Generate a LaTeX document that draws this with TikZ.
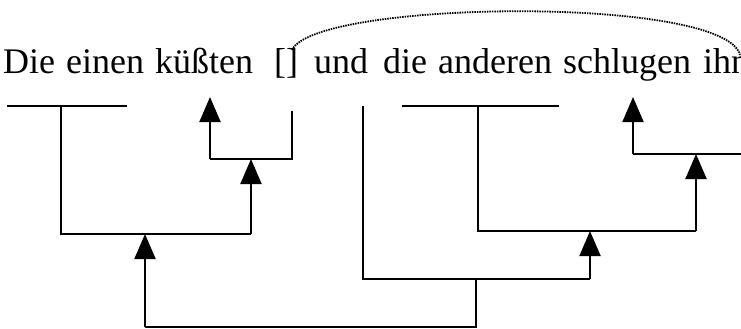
\documentclass[tikz,border=0pt]{standalone}
\usepackage{fontspec}
\setmainfont{Liberation Serif}
\usetikzlibrary{arrows.meta}

\tikzset{
  link/.style={line width=2pt, line cap=butt, line join=miter},
  uparrow/.style={link, -{Triangle[length=25pt, width=21pt]}},
  word/.style={anchor=base west, inner sep=0pt, font=\fontsize{36}{40}\selectfont},
  ellipsis/.style={line width=1.8pt, dash pattern=on 1.5pt off 1pt}
}

\begin{document}
\begin{tikzpicture}[x=1pt, y=-1pt]
  \useasboundingbox (0,0) rectangle (741,329);
  \clip (0,0) rectangle (741,329);

  % sentence
  \node[word] (Die) at (3,74) {Die};
  \node[word] (einen) at (66,74) {einen};
  \node[word] (kuessten) at (155,74) {küßten};
  \node[word] (gap) at (274,74) {[]};
  \node[word] (und) at (314,74) {und};
  \node[word] (die) at (383,74) {die};
  \node[word] (anderen) at (438,74) {anderen};
  \node[word] (schlugen) at (563,74) {schlugen};
  \node[word] (ihn) at (703,74) {ihn};

  % first conjunct: subject bar, verb bracket with empty object
  \coordinate (s1l) at (7,106);
  \coordinate (s1r) at (127,106);
  \coordinate (s1m) at (61,106);
  \coordinate (s1b) at (61,234);
  \coordinate (c1r) at (251,234);
  \coordinate (v1b) at (251,159);
  \coordinate (o1t) at (292,111);
  \coordinate (o1b) at (292,159);
  \coordinate (v1l) at (210,159);
  \coordinate (v1t) at (210,97);

  % second conjunct
  \coordinate (s2l) at (402,106);
  \coordinate (s2r) at (559,106);
  \coordinate (s2m) at (478,106);
  \coordinate (s2b) at (478,231);
  \coordinate (c2r) at (696,231);
  \coordinate (v2b) at (696,154);
  \coordinate (v2l) at (633,154);
  \coordinate (v2e) at (741,154);
  \coordinate (v2t) at (633,97);

  % coordination
  \coordinate (undt) at (363,106);
  \coordinate (undb) at (363,279);
  \coordinate (c3r) at (590,279);
  \coordinate (c3t) at (590,231);
  \coordinate (rootm) at (476,279);
  \coordinate (rootb) at (476,327);
  \coordinate (rootl) at (145,327);
  \coordinate (roott) at (145,234);

  % bars
  \draw[link] (s1l) -- (s1r);
  \draw[link] (s1m) -- (s1b) -- (c1r);
  \draw[uparrow] (c1r) -- (v1b);
  \draw[link] (o1t) -- (o1b) -- (v1l);
  \draw[uparrow] (v1l) -- (v1t);

  \draw[link] (s2l) -- (s2r);
  \draw[link] (s2m) -- (s2b) -- (c2r);
  \draw[uparrow] (c2r) -- (v2b);
  \draw[link] (v2e) -- (v2l);
  \draw[uparrow] (v2l) -- (v2t);

  \draw[link] (undt) -- (undb) -- (c3r);
  \draw[uparrow] (c3r) -- (c3t);
  \draw[link] (rootm) -- (rootb) -- (rootl);
  \draw[uparrow] (rootl) -- (roott);

  % gap resolved by the verb of the second conjunct
  \coordinate (gapend) at (292,50);
  \coordinate (verbend) at (740,55);
  \draw[ellipsis] (gapend) .. controls (315,0) and (725,-5) .. (verbend);
\end{tikzpicture}
\end{document}
